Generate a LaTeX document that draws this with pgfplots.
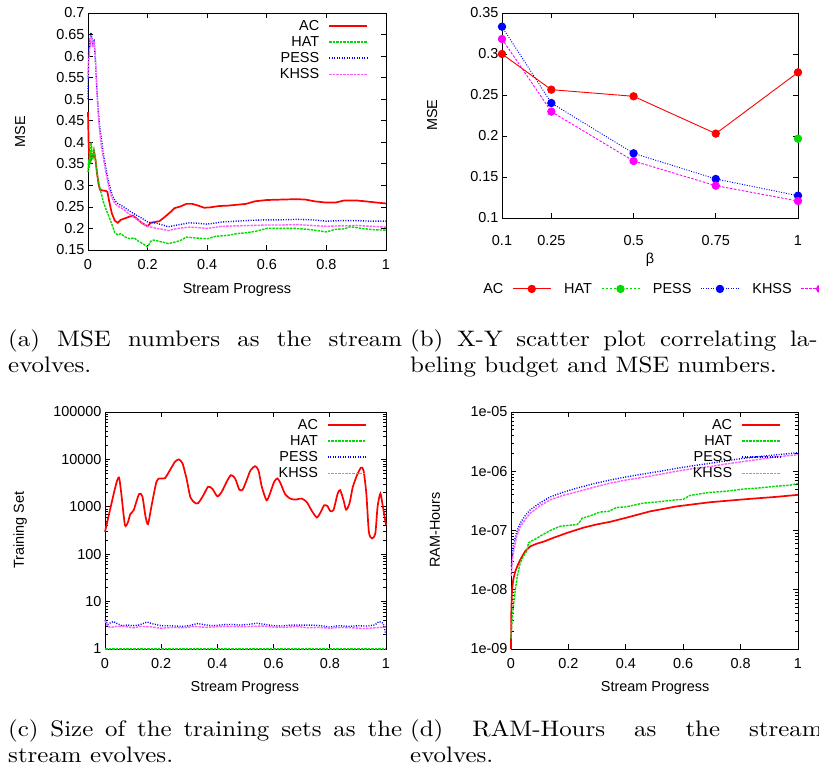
\documentclass[border=0pt]{standalone}
\usepackage{fontspec}
\usepackage{graphicx}
\usepackage{pgfplots}
\pgfplotsset{compat=1.18}
\newfontfamily\plotfont{Liberation Sans}
\newcommand\pf{\plotfont\fontsize{14.5}{16}\selectfont}
\definecolor{gpred}{RGB}{255,0,0}
\definecolor{gpgreen}{RGB}{0,220,0}
\definecolor{gpblue}{RGB}{0,0,255}
\definecolor{gpmag}{RGB}{255,0,255}
\pgfplotsset{
  gp/.style={
    scale only axis, anchor=south west,
    font=\pf,
    /pgf/number format/assume math mode=true,
    axis line style={line width=0.9bp},
    every tick/.style={black, line width=0.7bp},
    major tick length=5bp, minor tick length=3bp,
    tick align=inside,
    xticklabel style={yshift=-6bp},
    legend plot pos=right,
    legend cell align=right,
    legend style={draw=none, fill=none, row sep=2.6bp, anchor=north east, inner sep=0bp,
      nodes={inner sep=1bp},
      /tikz/every odd column/.append style={column sep=8bp}},
    legend image code/.code={\draw[##1] (0bp,0bp) -- (38bp,0bp);},
    clip=false,
  },
  ACs/.style={gpred, line width=1.7bp},
  HATs/.style={gpgreen, line width=1.4bp, dash pattern=on 2.5bp off 1bp},
  PESSs/.style={gpblue, line width=1.4bp, dash pattern=on 1bp off 1.5bp},
  KHSSs/.style={gpmag!65!white, line width=1.4bp, dash pattern=on 2.5bp off 1bp},
}
\newcommand\capt[3]{\scalebox{2.5}[2.25]{\parbox[t]{#1}{\fontsize{10}{12}\selectfont #2\linebreak #3}}}
\begin{document}
\begin{tikzpicture}
\path[use as bounding box] (0bp,0bp) rectangle (819bp,775bp);
\clip (0bp,0bp) rectangle (819bp,775bp);
% ---------------- (a)
\begin{axis}[gp, at={(88bp,525bp)}, width=298bp, height=237bp,
  xmin=0, xmax=1, ymin=0.15, ymax=0.7,
  xtick={0,0.2,0.4,0.6,0.8,1}, xticklabels={0,0.2,0.4,0.6,0.8,1},
  ytick={0.15,0.2,0.25,0.3,0.35,0.4,0.45,0.5,0.55,0.6,0.65,0.7},
  yticklabels={0.15,0.2,0.25,0.3,0.35,0.4,0.45,0.5,0.55,0.6,0.65,0.7},
  xlabel={Stream Progress}, ylabel={MSE},
  xlabel style={at={(axis description cs:0.5,-0.169)}, anchor=center},
  ylabel style={at={(axis description cs:-0.228,0.5)}, anchor=center},
  legend style={at={(axis description cs:0.94,0.975)}},
]
\addplot[ACs] table {
0 0.47
0.002 0.40
0.004 0.37
0.007 0.375
0.01 0.36
0.013 0.37
0.016 0.365
0.02 0.38
0.025 0.36
0.03 0.33
0.035 0.305
0.04 0.29
0.05 0.288
0.06 0.287
0.065 0.285
0.072 0.26
0.08 0.235
0.09 0.218
0.1 0.213
0.11 0.22
0.13 0.225
0.15 0.23
0.165 0.222
0.18 0.213
0.2 0.205
0.21 0.213
0.225 0.215
0.24 0.217
0.26 0.228
0.28 0.24
0.29 0.247
0.31 0.251
0.33 0.257
0.35 0.257
0.37 0.253
0.39 0.248
0.41 0.249
0.44 0.252
0.47 0.253
0.5 0.255
0.53 0.257
0.56 0.263
0.6 0.266
0.65 0.267
0.7 0.268
0.73 0.267
0.76 0.263
0.8 0.26
0.83 0.26
0.86 0.265
0.9 0.265
0.93 0.263
0.97 0.26
1 0.258
};
\addlegendentry{\pf AC}
\addplot[HATs] table {
0 0.33
0.002 0.36
0.004 0.34
0.006 0.38
0.008 0.35
0.01 0.40
0.012 0.39
0.015 0.36
0.018 0.37
0.02 0.38
0.023 0.37
0.027 0.35
0.032 0.32
0.04 0.295
0.05 0.265
0.06 0.245
0.07 0.228
0.08 0.21
0.09 0.19
0.1 0.185
0.11 0.188
0.125 0.18
0.14 0.176
0.155 0.178
0.17 0.17
0.19 0.162
0.2 0.157
0.21 0.17
0.22 0.173
0.24 0.17
0.27 0.165
0.29 0.168
0.31 0.172
0.33 0.18
0.36 0.178
0.4 0.176
0.43 0.182
0.47 0.184
0.5 0.188
0.53 0.19
0.56 0.193
0.6 0.2
0.65 0.2
0.7 0.2
0.75 0.197
0.8 0.192
0.83 0.198
0.86 0.199
0.88 0.204
0.92 0.2
0.96 0.197
1 0.196
};
\addlegendentry{\pf HAT}
\addplot[PESSs] table {
0 0.5
0.002 0.6
0.004 0.64
0.006 0.62
0.008 0.645
0.01 0.655
0.013 0.64
0.016 0.63
0.02 0.635
0.024 0.6
0.03 0.52
0.035 0.47
0.04 0.43
0.045 0.41
0.05 0.38
0.06 0.34
0.07 0.305
0.08 0.28
0.09 0.265
0.1 0.258
0.12 0.25
0.14 0.24
0.16 0.232
0.18 0.224
0.2 0.215
0.23 0.212
0.25 0.208
0.27 0.204
0.3 0.208
0.34 0.213
0.37 0.212
0.4 0.21
0.45 0.215
0.5 0.217
0.55 0.219
0.6 0.22
0.65 0.22
0.7 0.221
0.75 0.22
0.8 0.217
0.85 0.218
0.9 0.218
0.95 0.217
1 0.217
};
\addlegendentry{\pf PESS}
\addplot[KHSSs] table {
0 0.55
0.002 0.59
0.004 0.6
0.006 0.62
0.009 0.64
0.012 0.645
0.015 0.62
0.018 0.635
0.022 0.63
0.026 0.58
0.03 0.52
0.035 0.46
0.04 0.42
0.045 0.39
0.05 0.37
0.06 0.33
0.07 0.295
0.08 0.272
0.09 0.258
0.1 0.252
0.12 0.244
0.14 0.232
0.16 0.223
0.18 0.214
0.2 0.205
0.23 0.2
0.25 0.198
0.27 0.195
0.3 0.2
0.34 0.203
0.37 0.202
0.4 0.2
0.45 0.205
0.5 0.206
0.55 0.207
0.6 0.208
0.65 0.208
0.7 0.209
0.75 0.207
0.8 0.205
0.85 0.206
0.9 0.207
0.95 0.205
1 0.203
};
\addlegendentry{\pf KHSS}
\end{axis}
% ---------------- (b)
\begin{axis}[gp, at={(502bp,557bp)}, width=296bp, height=205bp,
  xmin=0.1, xmax=1, ymin=0.1, ymax=0.35,
  xtick={0.1,0.25,0.5,0.75,1}, xticklabels={0.1,0.25,0.5,0.75,1},
  ytick={0.1,0.15,0.2,0.25,0.3,0.35}, yticklabels={0.1,0.15,0.2,0.25,0.3,0.35},
  xticklabel style={yshift=-8bp},
  xlabel={β}, ylabel={MSE},
  xlabel style={at={(axis description cs:0.5,-0.205)}, anchor=center},
  ylabel style={at={(axis description cs:-0.236,0.502)}, anchor=center},
  legend columns=4,
  legend style={at={(axis description cs:0.537,-0.346)}, anchor=center,
    /tikz/every odd column/.append style={column sep=8bp},
    /tikz/every even column/.append style={column sep=12bp}},
  legend image code/.code={\draw[mark repeat=2,mark phase=2,#1] plot coordinates {(0bp,0bp) (19bp,0bp) (38bp,0bp)};},
]
\addplot[gpred, line width=0.9bp, mark=*, mark size=3.7bp, mark options={solid,fill=gpred,draw=gpred}] table {
0.1 0.300
0.25 0.2565
0.5 0.2484
0.75 0.2029
1 0.2776
};
\addlegendentry{\pf AC}
\addplot[gpgreen, line width=0.9bp, dash pattern=on 2.5bp off 1.5bp, mark=*, mark size=3.7bp, mark options={solid,fill=gpgreen,draw=gpgreen}] table {
1 0.1967
};
\addlegendentry{\pf HAT}
\addplot[gpblue, line width=0.9bp, dash pattern=on 1bp off 1.5bp, mark=*, mark size=3.7bp, mark options={solid,fill=gpblue,draw=gpblue}] table {
0.1 0.3333
0.25 0.2402
0.5 0.1789
0.75 0.1476
1 0.1272
};
\addlegendentry{\pf PESS}
\addplot[gpmag, line width=0.9bp, dash pattern=on 2.5bp off 1.5bp, mark=*, mark size=3.7bp, mark options={solid,fill=gpmag,draw=gpmag}] table {
0.1 0.3183
0.25 0.2297
0.5 0.1695
0.75 0.1394
1 0.1207
};
\addlegendentry{\pf KHSS}
\end{axis}
% ---------------- (c)
\begin{axis}[gp, at={(105bp,126bp)}, width=281bp, height=237bp,
  ymode=log, xmin=0, xmax=1, ymin=1, ymax=100000,
  xtick={0,0.2,0.4,0.6,0.8,1}, xticklabels={0,0.2,0.4,0.6,0.8,1},
  ytick={1,10,100,1000,10000,100000}, yticklabels={1,10,100,1000,10000,100000},
  xlabel={Stream Progress}, ylabel={Training Set},
  xlabel style={at={(axis description cs:0.498,-0.165)}, anchor=center},
  ylabel style={at={(axis description cs:-0.302,0.502)}, anchor=center},
  legend style={at={(axis description cs:0.932,0.975)}},
]
\addplot[ACs, smooth, tension=0.4] table {
0 296
0.023 1170
0.04 3100
0.05 4150
0.058 1900
0.071 410
0.082 480
0.09 700
0.102 850
0.121 1850
0.133 1660
0.144 630
0.153 430
0.165 1000
0.183 3370
0.195 3970
0.213 4000
0.231 5900
0.249 8900
0.263 10000
0.276 8200
0.29 3970
0.304 1580
0.32 1210
0.332 1200
0.35 1750
0.367 2650
0.382 2400
0.4 1660
0.415 2050
0.433 3370
0.448 4650
0.463 3970
0.478 2300
0.49 2300
0.504 3640
0.518 5900
0.534 7200
0.546 5900
0.558 2650
0.575 1370
0.587 1900
0.602 3370
0.614 3970
0.625 3100
0.641 1850
0.659 1490
0.677 1420
0.7 1490
0.718 1260
0.736 820
0.754 595
0.768 780
0.78 1080
0.792 1030
0.801 820
0.813 850
0.828 1900
0.837 2240
0.849 1370
0.858 870
0.87 1170
0.882 2640
0.897 4650
0.911 6700
0.92 5900
0.93 1900
0.939 296
0.95 215
0.962 275
0.97 1000
0.98 1900
0.989 1000
1 410
};
\addlegendentry{\pf AC}
\addplot[HATs] table {
0 1
1 1
};
\addlegendentry{\pf HAT}
\addplot[PESSs] table {
0 4.1
0.01 3.3
0.02 3.6
0.03 3.8
0.045 3.4
0.06 3.1
0.08 3.2
0.1 3.1
0.12 3.2
0.15 3.7
0.17 3.4
0.2 3.1
0.23 3.1
0.27 3.0
0.3 3.1
0.33 3.45
0.36 3.2
0.38 3.1
0.42 3.25
0.45 3.3
0.48 3.2
0.51 3.3
0.54 3.5
0.57 3.3
0.6 3.1
0.63 3.05
0.66 3.2
0.7 3.2
0.73 3.2
0.77 3.1
0.8 2.9
0.83 3.1
0.87 3.0
0.9 3.1
0.93 3.05
0.96 3.2
0.975 3.8
0.99 3.5
1 2.0
};
\addlegendentry{\pf PESS}
\addplot[KHSSs] table {
0 4.0
0.01 3.0
0.02 2.85
0.04 3.0
0.07 3.0
0.1 2.8
0.13 3.0
0.16 2.95
0.2 2.75
0.24 2.85
0.28 2.8
0.32 3.0
0.36 2.85
0.4 2.95
0.44 3.0
0.48 2.95
0.52 3.0
0.56 3.05
0.6 2.9
0.64 2.85
0.68 3.0
0.72 2.8
0.76 2.85
0.8 2.75
0.84 2.85
0.88 2.8
0.92 2.7
0.96 2.8
1 2.9
};
\addlegendentry{\pf KHSS}
\end{axis}
% ---------------- (d)
\begin{axis}[gp, at={(511bp,126bp)}, width=287bp, height=237bp,
  ymode=log, xmin=0, xmax=1, ymin=1e-9, ymax=1e-5,
  xtick={0,0.2,0.4,0.6,0.8,1}, xticklabels={0,0.2,0.4,0.6,0.8,1},
  ytick={1e-9,1e-8,1e-7,1e-6,1e-5}, yticklabels={1e-09,1e-08,1e-07,1e-06,1e-05},
  xlabel={Stream Progress}, ylabel={RAM-Hours},
  xlabel style={at={(axis description cs:0.502,-0.165)}, anchor=center},
  ylabel style={at={(axis description cs:-0.265,0.502)}, anchor=center},
  legend style={at={(axis description cs:0.941,0.975)}},
]
\addplot[ACs] table {
0 1e-9
0.001 4e-9
0.0035 1e-8
0.008 1.5e-8
0.015 2.05e-8
0.025 2.7e-8
0.032 3.2e-8
0.042 3.9e-8
0.05 4.5e-8
0.06 5.0e-8
0.067 5.4e-8
0.09 6.0e-8
0.114 6.5e-8
0.15 7.6e-8
0.195 9.1e-8
0.253 1.12e-7
0.3 1.27e-7
0.345 1.4e-7
0.403 1.65e-7
0.484 2.1e-7
0.577 2.55e-7
0.693 3.0e-7
0.809 3.35e-7
0.925 3.7e-7
1 4.0e-7
};
\addlegendentry{\pf AC}
\addplot[HATs] table {
0 1.5e-9
0.003 2.8e-9
0.008 5e-9
0.015 1e-8
0.022 1.7e-8
0.032 2.8e-8
0.045 3.8e-8
0.055 4.5e-8
0.061 6.2e-8
0.075 6.8e-8
0.09 7.4e-8
0.11 8.5e-8
0.137 1.0e-7
0.171 1.18e-7
0.2 1.22e-7
0.23 1.26e-7
0.24 1.4e-7
0.247 1.6e-7
0.28 1.8e-7
0.31 2.05e-7
0.34 2.1e-7
0.368 2.45e-7
0.4 2.5e-7
0.461 2.9e-7
0.5 3.0e-7
0.577 3.3e-7
0.6 3.35e-7
0.623 3.9e-7
0.693 4.4e-7
0.75 4.6e-7
0.809 5.0e-7
0.86 5.2e-7
0.925 5.6e-7
0.97 5.8e-7
1 6.2e-7
};
\addlegendentry{\pf HAT}
\addplot[PESSs] table {
0.001 2.5e-8
0.005 4.5e-8
0.01 6.2e-8
0.02 9.5e-8
0.032 1.33e-7
0.05 1.8e-7
0.067 2.24e-7
0.1 2.9e-7
0.137 3.7e-7
0.18 4.4e-7
0.23 5.2e-7
0.29 6.2e-7
0.345 7.1e-7
0.4 8e-7
0.461 9e-7
0.52 1.0e-6
0.577 1.12e-6
0.63 1.23e-6
0.693 1.36e-6
0.75 1.5e-6
0.809 1.65e-6
0.87 1.78e-6
0.925 1.9e-6
1 2.05e-6
};
\addlegendentry{\pf PESS}
\addplot[KHSSs] table {
0.001 1.7e-8
0.005 3.3e-8
0.01 4.7e-8
0.02 8e-8
0.032 1.15e-7
0.05 1.55e-7
0.067 1.95e-7
0.1 2.6e-7
0.137 3.3e-7
0.18 3.9e-7
0.23 4.5e-7
0.29 5.4e-7
0.345 6.3e-7
0.4 7.1e-7
0.461 7.9e-7
0.52 8.9e-7
0.577 1.0e-6
0.63 1.1e-6
0.693 1.2e-6
0.75 1.33e-6
0.809 1.46e-6
0.87 1.6e-6
0.925 1.75e-6
1 1.9e-6
};
\addlegendentry{\pf KHSS}
\end{axis}
% ---------------- captions
\node[anchor=north west, inner sep=0] at (8bp,446bp) {\capt{157.6bp}{(a) MSE numbers as the stream}{evolves.}};
\node[anchor=north west, inner sep=0] at (410bp,446bp) {\capt{163bp}{(b) X-Y scatter plot correlating la-}{beling budget and MSE numbers.}};
\node[anchor=north west, inner sep=0] at (8bp,56bp) {\capt{157.6bp}{(c) Size of the training sets as the}{stream evolves.}};
\node[anchor=north west, inner sep=0] at (410bp,56bp) {\capt{165bp}{(d) RAM-Hours as the stream}{evolves.}};
\end{tikzpicture}
\end{document}
